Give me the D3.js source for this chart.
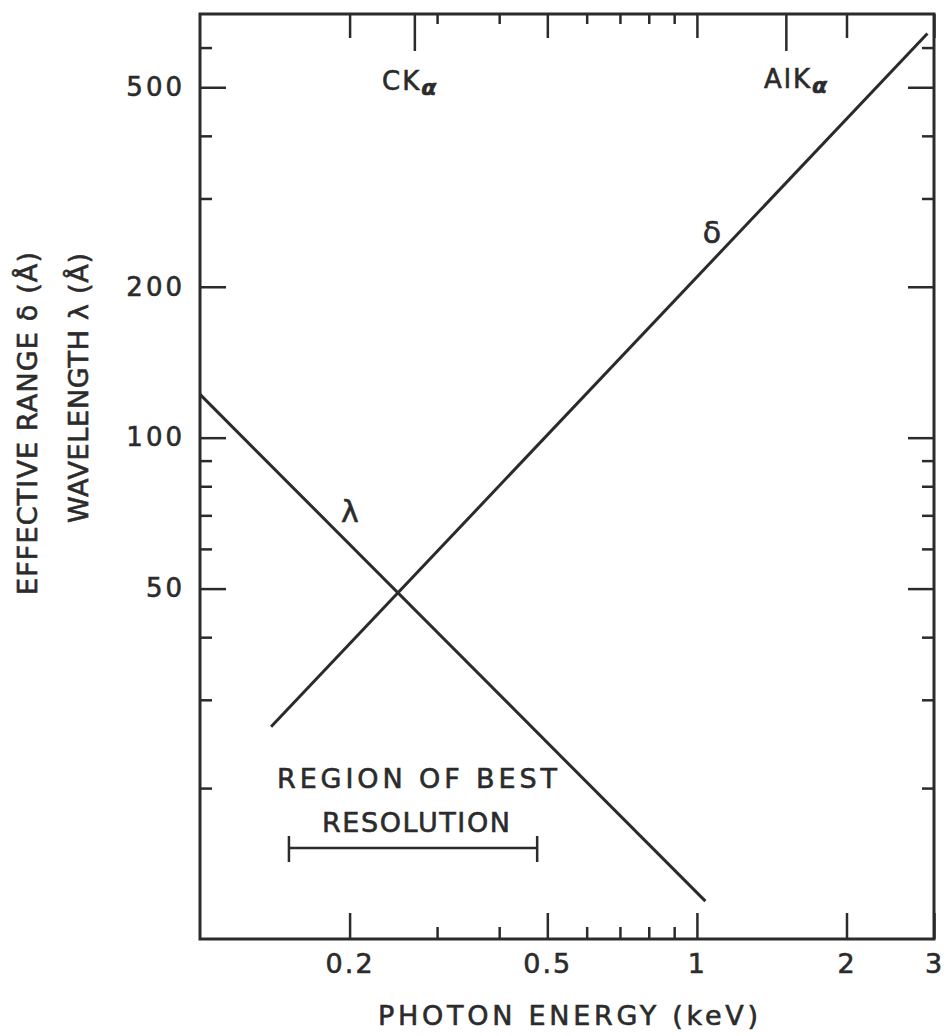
<!DOCTYPE html>
<html>
<head>
<meta charset="utf-8">
<script src="https://cdn.jsdelivr.net/npm/d3@7"></script>
<style>
  html, body { margin: 0; padding: 0; background: #fff; }
  svg { display: block; }
  text { font-family: "DejaVu Sans", "Liberation Sans", sans-serif; fill: #2b2b2b; stroke: #2b2b2b; stroke-width: 0.6px; }
</style>
</head>
<body>
<svg id="chart" width="950" height="1036"></svg>
<script>
// ---- data ----
const lambdaEnergy = [0.1, 1.04];      // keV
const lambdaValue  = [122, 11.9];      // Å
const deltaEnergy  = [0.139, 2.91];    // keV
const deltaValue   = [26.5, 640];      // Å
const xLabelTicks  = [0.2, 0.5, 1, 2, 3];
const xLabelText   = ["0.2", "0.5", "1", "2", "3"];
const xMinorTicks  = [0.3, 0.4, 0.6, 0.7, 0.8, 0.9];
const yLabelTicks  = [50, 100, 200, 500];
const yLabelText   = ["50", "100", "200", "500"];
const yMinorTicks  = [20, 30, 40, 60, 70, 80, 90, 300, 400, 600];
const lineNames    = ["CK", "AlK"];
const lineEnergy   = [0.27, 1.51];     // keV, marks on top axis
const regionRange  = [0.151, 0.477];   // keV, region of best resolution

const svg = d3.select("#chart");
const ink = "#2b2b2b";

const x = d3.scaleLog().domain([0.1, 3]).range([200, 934]);
const y = d3.scaleLog().domain([10, 700]).range([939, 14]);

function styleAxis(g, w) {
  g.select(".domain").remove();
  g.selectAll(".tick line").attr("stroke", ink).attr("stroke-width", w || 2.5);
}

// bottom axis: major labelled
svg.append("g").attr("transform", "translate(0,939)")
  .call(d3.axisBottom(x).tickValues(xLabelTicks)
        .tickFormat((d, i) => xLabelText[i]).tickSizeInner(-26).tickSizeOuter(0).tickPadding(15))
  .call(g => { styleAxis(g); g.selectAll("text").attr("font-size", 27).attr("letter-spacing", 2).attr("fill", ink).attr("font-family", "DejaVu Sans"); });
svg.append("g").attr("transform", "translate(0,939)")
  .call(d3.axisBottom(x).tickValues(xMinorTicks).tickFormat("").tickSizeInner(-12).tickSizeOuter(0))
  .call(g => styleAxis(g));

// top axis
svg.append("g").attr("transform", "translate(0,14)")
  .call(d3.axisTop(x).tickValues(xLabelTicks).tickFormat("").tickSizeInner(-24).tickSizeOuter(0))
  .call(g => styleAxis(g));
svg.append("g").attr("transform", "translate(0,14)")
  .call(d3.axisTop(x).tickValues(xMinorTicks).tickFormat("").tickSizeInner(-10).tickSizeOuter(0))
  .call(g => styleAxis(g));
svg.append("g").attr("transform", "translate(0,14)")
  .call(d3.axisTop(x).tickValues(lineEnergy).tickFormat("").tickSizeInner(-37).tickSizeOuter(0))
  .call(g => styleAxis(g));

// left axis
svg.append("g").attr("transform", "translate(200,0)")
  .call(d3.axisLeft(y).tickValues(yLabelTicks)
        .tickFormat((d, i) => yLabelText[i]).tickSizeInner(-26).tickSizeOuter(0).tickPadding(15))
  .call(g => { styleAxis(g); g.selectAll("text").attr("font-size", 26).attr("letter-spacing", 3).attr("fill", ink).attr("font-family", "DejaVu Sans"); });
svg.append("g").attr("transform", "translate(200,0)")
  .call(d3.axisLeft(y).tickValues(yMinorTicks).tickFormat("").tickSizeInner(-12).tickSizeOuter(0))
  .call(g => styleAxis(g));

// right axis
svg.append("g").attr("transform", "translate(934,0)")
  .call(d3.axisRight(y).tickValues(yLabelTicks).tickFormat("").tickSizeInner(-26).tickSizeOuter(0))
  .call(g => styleAxis(g));
svg.append("g").attr("transform", "translate(934,0)")
  .call(d3.axisRight(y).tickValues(yMinorTicks).tickFormat("").tickSizeInner(-12).tickSizeOuter(0))
  .call(g => styleAxis(g));

// frame
svg.append("rect")
  .attr("x", x.range()[0]).attr("y", y.range()[1])
  .attr("width", x.range()[1] - x.range()[0]).attr("height", y.range()[0] - y.range()[1])
  .attr("fill", "none").attr("stroke", ink).attr("stroke-width", 3);

// lines
const line = d3.line().x(d => x(d[0])).y(d => y(d[1]));
svg.append("path").datum(d3.zip(lambdaEnergy, lambdaValue))
  .attr("d", line).attr("fill", "none").attr("stroke", ink).attr("stroke-width", 3);
svg.append("path").datum(d3.zip(deltaEnergy, deltaValue))
  .attr("d", line).attr("fill", "none").attr("stroke", ink).attr("stroke-width", 3);

// curve labels
svg.append("text").attr("x", 350).attr("y", 522).attr("text-anchor", "middle")
  .attr("font-size", 30).text("λ");
svg.append("text").attr("x", 712).attr("y", 243).attr("text-anchor", "middle")
  .attr("font-size", 30).text("δ");

// emission line labels
const lblPos = [[382, 90], [764, 88]];
lineNames.forEach((n, i) => {
  const t = svg.append("text").attr("x", lblPos[i][0]).attr("y", lblPos[i][1])
    .attr("font-size", 26).attr("letter-spacing", 2);
  t.append("tspan").text(n);
  t.append("tspan").attr("dy", 5).attr("font-size", 22).attr("font-weight", "bold")
    .attr("font-style", "italic").text("α");
});

// region of best resolution
svg.append("text").attr("x", 277).attr("y", 788).attr("font-size", 27)
  .attr("textLength", 280).attr("lengthAdjust", "spacing").text("REGION OF BEST");
svg.append("text").attr("x", 322).attr("y", 832).attr("font-size", 27)
  .attr("textLength", 188).attr("lengthAdjust", "spacing").text("RESOLUTION");
const by = 848;
const bracket = svg.append("g").attr("stroke", ink).attr("stroke-width", 2.5);
bracket.append("line").attr("x1", x(regionRange[0])).attr("x2", x(regionRange[1])).attr("y1", by).attr("y2", by);
regionRange.forEach(v => bracket.append("line").attr("x1", x(v)).attr("x2", x(v)).attr("y1", by - 12).attr("y2", by + 14));

// axis titles
svg.append("text").attr("x", 378).attr("y", 1025).attr("font-size", 27)
  .attr("textLength", 380).attr("lengthAdjust", "spacing").text("PHOTON ENERGY (keV)");
svg.append("text").attr("transform", "translate(37,252) rotate(-90)")
  .attr("text-anchor", "end").attr("font-size", 27)
  .attr("textLength", 343).attr("lengthAdjust", "spacing").text("EFFECTIVE RANGE δ (Å)");
svg.append("text").attr("transform", "translate(88,253) rotate(-90)")
  .attr("text-anchor", "end").attr("font-size", 27)
  .attr("textLength", 270).attr("lengthAdjust", "spacing").text("WAVELENGTH λ (Å)");
</script>
</body>
</html>
